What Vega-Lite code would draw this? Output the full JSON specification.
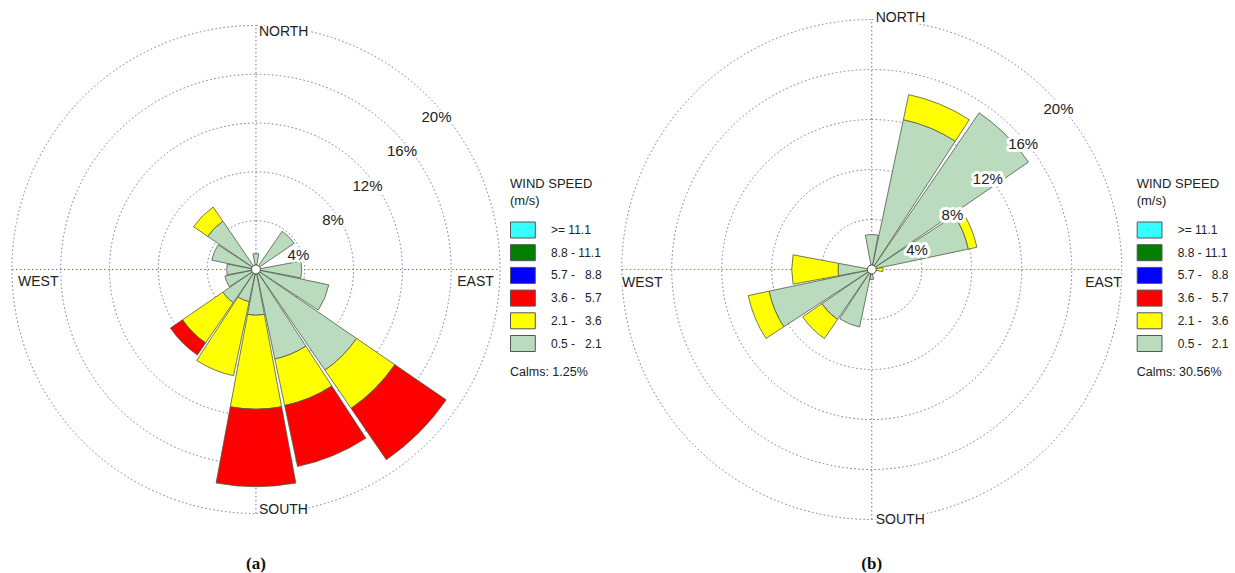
{
  "$schema": "https://vega.github.io/schema/vega-lite/v6.json",
  "background": "white",
  "width": 1235, "height": 573,
  "autosize": {"type": "none"},
  "padding": 0,
  "config": {"view": {"stroke": null}, "text": {"font": "Liberation Sans", "color": "#222"}},
  "datasets": {
    "rings": [
      {"ring": 4, "label": "4%"}, {"ring": 8, "label": "8%"}, {"ring": 12, "label": "12%"},
      {"ring": 16, "label": "16%"}, {"ring": 20, "label": "20%"}
    ],
    "a": [
      {"dir": "N", "speed": "0.5 - 2.1", "pct": 1.3},
      {"dir": "NE", "speed": "0.5 - 2.1", "pct": 3.8},
      {"dir": "E", "speed": "0.5 - 2.1", "pct": 3.75},
      {"dir": "ESE", "speed": "0.5 - 2.1", "pct": 6.1},
      {"dir": "SE", "speed": "0.5 - 2.1", "pct": 10.0},
      {"dir": "SE", "speed": "2.1 - 3.6", "pct": 3.8},
      {"dir": "SE", "speed": "3.6 - 5.7", "pct": 5.1},
      {"dir": "SSE", "speed": "0.5 - 2.1", "pct": 7.5},
      {"dir": "SSE", "speed": "2.1 - 3.6", "pct": 3.9},
      {"dir": "SSE", "speed": "3.6 - 5.7", "pct": 5.1},
      {"dir": "S", "speed": "0.5 - 2.1", "pct": 3.75},
      {"dir": "S", "speed": "2.1 - 3.6", "pct": 7.7},
      {"dir": "S", "speed": "3.6 - 5.7", "pct": 6.35},
      {"dir": "SSW", "speed": "0.5 - 2.1", "pct": 2.7},
      {"dir": "SSW", "speed": "2.1 - 3.6", "pct": 6.2},
      {"dir": "SW", "speed": "0.5 - 2.1", "pct": 3.3},
      {"dir": "SW", "speed": "2.1 - 3.6", "pct": 4.0},
      {"dir": "SW", "speed": "3.6 - 5.7", "pct": 1.2},
      {"dir": "WSW", "speed": "0.5 - 2.1", "pct": 2.6},
      {"dir": "W", "speed": "0.5 - 2.1", "pct": 2.4},
      {"dir": "WNW", "speed": "0.5 - 2.1", "pct": 3.7},
      {"dir": "NW", "speed": "0.5 - 2.1", "pct": 4.8},
      {"dir": "NW", "speed": "2.1 - 3.6", "pct": 1.4}
    ],
    "b": [
      {"dir": "N", "speed": "0.5 - 2.1", "pct": 2.8},
      {"dir": "NNE", "speed": "0.5 - 2.1", "pct": 12.25},
      {"dir": "NNE", "speed": "2.1 - 3.6", "pct": 2.05},
      {"dir": "NE", "speed": "0.5 - 2.1", "pct": 15.2},
      {"dir": "ENE", "speed": "0.5 - 2.1", "pct": 7.9},
      {"dir": "ENE", "speed": "2.1 - 3.6", "pct": 0.7},
      {"dir": "E", "speed": "0.5 - 2.1", "pct": 0.3},
      {"dir": "E", "speed": "2.1 - 3.6", "pct": 0.6},
      {"dir": "S", "speed": "0.5 - 2.1", "pct": 0.8},
      {"dir": "SSW", "speed": "0.5 - 2.1", "pct": 4.7},
      {"dir": "SW", "speed": "0.5 - 2.1", "pct": 4.85},
      {"dir": "SW", "speed": "2.1 - 3.6", "pct": 1.85},
      {"dir": "WSW", "speed": "0.5 - 2.1", "pct": 8.4},
      {"dir": "WSW", "speed": "2.1 - 3.6", "pct": 1.7},
      {"dir": "W", "speed": "0.5 - 2.1", "pct": 2.7},
      {"dir": "W", "speed": "2.1 - 3.6", "pct": 3.7}
    ]
  },
  "layer": [
    {
      "layer": [
        {"data": {"name": "rings"}, "mark": {"type": "arc", "filled": false, "stroke": "#7070b4", "strokeWidth": 1, "strokeDash": [1.5, 2.5]},
         "encoding": {"x": {"datum": 0, "scale": {"domain": [-20.98, 80.25], "nice": false, "zero": false}, "axis": null}, "y": {"datum": 0, "scale": {"domain": [-24.88, 22.09], "nice": false, "zero": false}, "axis": null},
           "radius": {"field": "ring", "type": "quantitative", "stack": null, "scale": {"type": "linear", "domain": [0, 23.48], "nice": false, "zero": true}}, "theta": {"value": 0}, "theta2": {"value": 6.2832}}},
        {"data": {"values": [{}]}, "mark": {"type": "rule", "stroke": "#7070b4", "strokeWidth": 1, "strokeDash": [1.5, 2.5]},
         "encoding": {"x": {"datum": -20, "scale": {"domain": [-20.98, 80.25], "nice": false, "zero": false}, "axis": null}, "x2": {"datum": 20}, "y": {"datum": 0, "scale": {"domain": [-24.88, 22.09], "nice": false, "zero": false}, "axis": null}}},
        {"data": {"values": [{}]}, "mark": {"type": "rule", "stroke": "#7070b4", "strokeWidth": 1, "strokeDash": [1.5, 2.5]},
         "encoding": {"x": {"datum": 0, "scale": {"domain": [-20.98, 80.25], "nice": false, "zero": false}, "axis": null}, "y": {"datum": -20, "scale": {"domain": [-24.88, 22.09], "nice": false, "zero": false}, "axis": null}, "y2": {"datum": 20}}},
        {"data": {"name": "a"}, "mark": {"type": "arc", "stroke": "#4f5946", "strokeWidth": 0.8},
         "encoding": {
           "x": {"datum": 0, "scale": {"domain": [-20.98, 80.25], "nice": false, "zero": false}, "axis": null}, "y": {"datum": 0, "scale": {"domain": [-24.88, 22.09], "nice": false, "zero": false}, "axis": null},
           "theta": {"field": "dir", "type": "nominal", "scale": {"type": "band", "domain": ["N","NNE","NE","ENE","E","ESE","SE","SSE","S","SSW","SW","WSW","W","WNW","NW","NNW"], "range": [-0.19635, 6.08684], "paddingInner": 0.06, "paddingOuter": 0.03}},
           "radius": {"field": "pct", "type": "quantitative", "stack": "zero", "scale": {"type": "linear", "domain": [0, 23.48], "nice": false, "zero": true}},
           "color": {"field": "speed", "type": "nominal",
             "scale": {"domain": [">= 11.1", "8.8 - 11.1", "5.7 - 8.8", "3.6 - 5.7", "2.1 - 3.6", "0.5 - 2.1"], "range": ["#33ffff", "#007f00", "#0000ff", "#ff0000", "#ffff00", "#badbbe"]},
             "legend": {"orient": "none", "legendX": 510, "legendY": 177.5, "title": ["WIND SPEED", "(m/s)"], "titleFont": "Liberation Sans", "titleFontSize": 13, "titleFontWeight": "normal", "titleColor": "#222", "titleLineHeight": 17, "titlePadding": 14, "titleAnchor": "start", "labelFont": "Liberation Sans", "labelFontSize": 12, "labelColor": "#222", "labelOffset": 24, "labelLimit": 200, "rowPadding": 1.7, "symbolType": "M-1,-1H2.1V1H-1Z", "symbolSize": 256, "symbolStrokeColor": "#555", "symbolStrokeWidth": 1, "symbolOpacity": 1, "padding": 0,
               "labelExpr": "datum.label == '>= 11.1' ? datum.label : '\u00a0' + replace(datum.label, ' - ', length(datum.label) < 10 ? ' -\u00a0\u00a0\u00a0' : ' - ')"}},
           "order": {"field": "speed", "sort": "ascending"}
         }},
        {"data": {"values": [{}]}, "mark": {"type": "arc", "fill": "white", "stroke": "#444", "strokeWidth": 1},
         "encoding": {"x": {"datum": 0, "scale": {"domain": [-20.98, 80.25], "nice": false, "zero": false}, "axis": null}, "y": {"datum": 0, "scale": {"domain": [-24.88, 22.09], "nice": false, "zero": false}, "axis": null},
           "radius": {"value": 4.5}, "theta": {"value": 0}, "theta2": {"value": 6.2832}}},
        {"data": {"name": "rings"},
         "encoding": {"x": {"datum": 0, "scale": {"domain": [-20.98, 80.25], "nice": false, "zero": false}, "axis": null}, "y": {"datum": 0, "scale": {"domain": [-24.88, 22.09], "nice": false, "zero": false}, "axis": null},
           "radius": {"field": "ring", "type": "quantitative", "stack": null, "scale": {"type": "linear", "domain": [0, 23.48], "nice": false, "zero": true}}, "theta": {"value": 0.7854}, "text": {"field": "label"}},
         "layer": [
           {"mark": {"type": "text", "fontSize": 15, "dx": 8, "dy": 20, "align": "center", "baseline": "middle", "fill": "white", "stroke": "white", "strokeWidth": 5, "strokeJoin": "round"}},
           {"mark": {"type": "text", "fontSize": 15, "dx": 8, "dy": 20, "align": "center", "baseline": "middle", "color": "#222"}}
         ]},
        {"data": {"values": [{"t": "NORTH"}]},
         "encoding": {"x": {"datum": 0, "scale": {"domain": [-20.98, 80.25], "nice": false, "zero": false}, "axis": null}, "y": {"datum": 19.47, "scale": {"domain": [-24.88, 22.09], "nice": false, "zero": false}, "axis": null}, "text": {"field": "t"}},
         "layer": [
           {"mark": {"type": "text", "fontSize": 14, "align": "left", "baseline": "middle", "dx": 3, "fill": "white", "stroke": "white", "strokeWidth": 4, "strokeJoin": "round"}},
           {"mark": {"type": "text", "fontSize": 14, "align": "left", "baseline": "middle", "dx": 3, "color": "#222"}}
         ]},
        {"data": {"values": [{"t": "SOUTH"}]},
         "encoding": {"x": {"datum": 0, "scale": {"domain": [-20.98, 80.25], "nice": false, "zero": false}, "axis": null}, "y": {"datum": -19.7, "scale": {"domain": [-24.88, 22.09], "nice": false, "zero": false}, "axis": null}, "text": {"field": "t"}},
         "layer": [
           {"mark": {"type": "text", "fontSize": 14, "align": "left", "baseline": "middle", "dx": 3, "fill": "white", "stroke": "white", "strokeWidth": 4, "strokeJoin": "round"}},
           {"mark": {"type": "text", "fontSize": 14, "align": "left", "baseline": "middle", "dx": 3, "color": "#222"}}
         ]},
        {"data": {"values": [{"t": "WEST"}]},
         "encoding": {"x": {"datum": -19.5, "scale": {"domain": [-20.98, 80.25], "nice": false, "zero": false}, "axis": null}, "y": {"datum": 0, "scale": {"domain": [-24.88, 22.09], "nice": false, "zero": false}, "axis": null}, "text": {"field": "t"}},
         "layer": [
           {"mark": {"type": "text", "fontSize": 14, "align": "left", "baseline": "middle", "dy": 13, "fill": "white", "stroke": "white", "strokeWidth": 4, "strokeJoin": "round"}},
           {"mark": {"type": "text", "fontSize": 14, "align": "left", "baseline": "middle", "dy": 13, "color": "#222"}}
         ]},
        {"data": {"values": [{"t": "EAST"}]},
         "encoding": {"x": {"datum": 19.5, "scale": {"domain": [-20.98, 80.25], "nice": false, "zero": false}, "axis": null}, "y": {"datum": 0, "scale": {"domain": [-24.88, 22.09], "nice": false, "zero": false}, "axis": null}, "text": {"field": "t"}},
         "layer": [
           {"mark": {"type": "text", "fontSize": 14, "align": "right", "baseline": "middle", "dy": 13, "fill": "white", "stroke": "white", "strokeWidth": 4, "strokeJoin": "round"}},
           {"mark": {"type": "text", "fontSize": 14, "align": "right", "baseline": "middle", "dy": 13, "color": "#222"}}
         ]},
        {"data": {"values": [{"t": "Calms: 1.25%"}]}, "mark": {"type": "text", "fontSize": 12.5, "align": "left", "baseline": "middle", "color": "#222"},
         "encoding": {"x": {"datum": 20.82, "scale": {"domain": [-20.98, 80.25], "nice": false, "zero": false}, "axis": null}, "y": {"datum": -8.4, "scale": {"domain": [-24.88, 22.09], "nice": false, "zero": false}, "axis": null}, "text": {"field": "t"}}},
        {"data": {"values": [{"t": "(a)"}]}, "mark": {"type": "text", "font": "Liberation Serif", "fontSize": 17, "fontWeight": "bold", "align": "center", "baseline": "middle", "color": "#111"},
         "encoding": {"x": {"datum": 0, "scale": {"domain": [-20.98, 80.25], "nice": false, "zero": false}, "axis": null}, "y": {"datum": -24.14, "scale": {"domain": [-24.88, 22.09], "nice": false, "zero": false}, "axis": null}, "text": {"field": "t"}}}
      ]
    },
    {
      "layer": [
        {"data": {"name": "rings"}, "mark": {"type": "arc", "filled": false, "stroke": "#7070b4", "strokeWidth": 1, "strokeDash": [1.5, 2.5]},
         "encoding": {"x": {"datum": 0, "scale": {"domain": [-69.74, 29.06], "nice": false, "zero": false}, "axis": null}, "y": {"datum": 0, "scale": {"domain": [-24.28, 21.56], "nice": false, "zero": false}, "axis": null},
           "radius": {"field": "ring", "type": "quantitative", "stack": null, "scale": {"type": "linear", "domain": [0, 22.92], "nice": false, "zero": true}}, "theta": {"value": 0}, "theta2": {"value": 6.2832}}},
        {"data": {"values": [{}]}, "mark": {"type": "rule", "stroke": "#7070b4", "strokeWidth": 1, "strokeDash": [1.5, 2.5]},
         "encoding": {"x": {"datum": -20, "scale": {"domain": [-69.74, 29.06], "nice": false, "zero": false}, "axis": null}, "x2": {"datum": 20}, "y": {"datum": 0, "scale": {"domain": [-24.28, 21.56], "nice": false, "zero": false}, "axis": null}}},
        {"data": {"values": [{}]}, "mark": {"type": "rule", "stroke": "#7070b4", "strokeWidth": 1, "strokeDash": [1.5, 2.5]},
         "encoding": {"x": {"datum": 0, "scale": {"domain": [-69.74, 29.06], "nice": false, "zero": false}, "axis": null}, "y": {"datum": -20, "scale": {"domain": [-24.28, 21.56], "nice": false, "zero": false}, "axis": null}, "y2": {"datum": 20}}},
        {"data": {"name": "b"}, "mark": {"type": "arc", "stroke": "#4f5946", "strokeWidth": 0.8},
         "encoding": {
           "x": {"datum": 0, "scale": {"domain": [-69.74, 29.06], "nice": false, "zero": false}, "axis": null}, "y": {"datum": 0, "scale": {"domain": [-24.28, 21.56], "nice": false, "zero": false}, "axis": null},
           "theta": {"field": "dir", "type": "nominal", "scale": {"type": "band", "domain": ["N","NNE","NE","ENE","E","ESE","SE","SSE","S","SSW","SW","WSW","W","WNW","NW","NNW"], "range": [-0.19635, 6.08684], "paddingInner": 0.06, "paddingOuter": 0.03}},
           "radius": {"field": "pct", "type": "quantitative", "stack": "zero", "scale": {"type": "linear", "domain": [0, 22.92], "nice": false, "zero": true}},
           "color": {"field": "speed", "type": "nominal",
             "scale": {"domain": [">= 11.1", "8.8 - 11.1", "5.7 - 8.8", "3.6 - 5.7", "2.1 - 3.6", "0.5 - 2.1"], "range": ["#33ffff", "#007f00", "#0000ff", "#ff0000", "#ffff00", "#badbbe"]},
             "legend": {"orient": "none", "legendX": 1136.7, "legendY": 177.5, "title": ["WIND SPEED", "(m/s)"], "titleFont": "Liberation Sans", "titleFontSize": 13, "titleFontWeight": "normal", "titleColor": "#222", "titleLineHeight": 17, "titlePadding": 14, "titleAnchor": "start", "labelFont": "Liberation Sans", "labelFontSize": 12, "labelColor": "#222", "labelOffset": 24, "labelLimit": 200, "rowPadding": 1.7, "symbolType": "M-1,-1H2.1V1H-1Z", "symbolSize": 256, "symbolStrokeColor": "#555", "symbolStrokeWidth": 1, "symbolOpacity": 1, "padding": 0,
               "labelExpr": "datum.label == '>= 11.1' ? datum.label : '\u00a0' + replace(datum.label, ' - ', length(datum.label) < 10 ? ' -\u00a0\u00a0\u00a0' : ' - ')"}},
           "order": {"field": "speed", "sort": "ascending"}
         }},
        {"data": {"values": [{}]}, "mark": {"type": "arc", "fill": "white", "stroke": "#444", "strokeWidth": 1},
         "encoding": {"x": {"datum": 0, "scale": {"domain": [-69.74, 29.06], "nice": false, "zero": false}, "axis": null}, "y": {"datum": 0, "scale": {"domain": [-24.28, 21.56], "nice": false, "zero": false}, "axis": null},
           "radius": {"value": 4.5}, "theta": {"value": 0}, "theta2": {"value": 6.2832}}},
        {"data": {"name": "rings"},
         "encoding": {"x": {"datum": 0, "scale": {"domain": [-69.74, 29.06], "nice": false, "zero": false}, "axis": null}, "y": {"datum": 0, "scale": {"domain": [-24.28, 21.56], "nice": false, "zero": false}, "axis": null},
           "radius": {"field": "ring", "type": "quantitative", "stack": null, "scale": {"type": "linear", "domain": [0, 22.92], "nice": false, "zero": true}}, "theta": {"value": 0.7854}, "text": {"field": "label"}},
         "layer": [
           {"mark": {"type": "text", "fontSize": 15, "dx": 10, "dy": 16, "align": "center", "baseline": "middle", "fill": "white", "stroke": "white", "strokeWidth": 6, "strokeJoin": "round"}},
           {"mark": {"type": "text", "fontSize": 15, "dx": 10, "dy": 16, "align": "center", "baseline": "middle", "color": "#222"}}
         ]},
        {"data": {"values": [{"t": "NORTH"}]},
         "encoding": {"x": {"datum": 0, "scale": {"domain": [-69.74, 29.06], "nice": false, "zero": false}, "axis": null}, "y": {"datum": 20.1, "scale": {"domain": [-24.28, 21.56], "nice": false, "zero": false}, "axis": null}, "text": {"field": "t"}},
         "layer": [
           {"mark": {"type": "text", "fontSize": 14, "align": "left", "baseline": "middle", "dx": 4, "fill": "white", "stroke": "white", "strokeWidth": 4, "strokeJoin": "round"}},
           {"mark": {"type": "text", "fontSize": 14, "align": "left", "baseline": "middle", "dx": 4, "color": "#222"}}
         ]},
        {"data": {"values": [{"t": "SOUTH"}]},
         "encoding": {"x": {"datum": 0, "scale": {"domain": [-69.74, 29.06], "nice": false, "zero": false}, "axis": null}, "y": {"datum": -20.0, "scale": {"domain": [-24.28, 21.56], "nice": false, "zero": false}, "axis": null}, "text": {"field": "t"}},
         "layer": [
           {"mark": {"type": "text", "fontSize": 14, "align": "left", "baseline": "middle", "dx": 4, "fill": "white", "stroke": "white", "strokeWidth": 4, "strokeJoin": "round"}},
           {"mark": {"type": "text", "fontSize": 14, "align": "left", "baseline": "middle", "dx": 4, "color": "#222"}}
         ]},
        {"data": {"values": [{"t": "WEST"}]},
         "encoding": {"x": {"datum": -19.98, "scale": {"domain": [-69.74, 29.06], "nice": false, "zero": false}, "axis": null}, "y": {"datum": 0, "scale": {"domain": [-24.28, 21.56], "nice": false, "zero": false}, "axis": null}, "text": {"field": "t"}},
         "layer": [
           {"mark": {"type": "text", "fontSize": 14, "align": "left", "baseline": "middle", "dy": 13, "fill": "white", "stroke": "white", "strokeWidth": 4, "strokeJoin": "round"}},
           {"mark": {"type": "text", "fontSize": 14, "align": "left", "baseline": "middle", "dy": 13, "color": "#222"}}
         ]},
        {"data": {"values": [{"t": "EAST"}]},
         "encoding": {"x": {"datum": 20.0, "scale": {"domain": [-69.74, 29.06], "nice": false, "zero": false}, "axis": null}, "y": {"datum": 0, "scale": {"domain": [-24.28, 21.56], "nice": false, "zero": false}, "axis": null}, "text": {"field": "t"}},
         "layer": [
           {"mark": {"type": "text", "fontSize": 14, "align": "right", "baseline": "middle", "dy": 13, "fill": "white", "stroke": "white", "strokeWidth": 4, "strokeJoin": "round"}},
           {"mark": {"type": "text", "fontSize": 14, "align": "right", "baseline": "middle", "dy": 13, "color": "#222"}}
         ]},
        {"data": {"values": [{"t": "Calms: 30.56%"}]}, "mark": {"type": "text", "fontSize": 12.5, "align": "left", "baseline": "middle", "color": "#222"},
         "encoding": {"x": {"datum": 21.2, "scale": {"domain": [-69.74, 29.06], "nice": false, "zero": false}, "axis": null}, "y": {"datum": -8.2, "scale": {"domain": [-24.28, 21.56], "nice": false, "zero": false}, "axis": null}, "text": {"field": "t"}}},
        {"data": {"values": [{"t": "(b)"}]}, "mark": {"type": "text", "font": "Liberation Serif", "fontSize": 17, "fontWeight": "bold", "align": "center", "baseline": "middle", "color": "#111"},
         "encoding": {"x": {"datum": 0, "scale": {"domain": [-69.74, 29.06], "nice": false, "zero": false}, "axis": null}, "y": {"datum": -23.56, "scale": {"domain": [-24.28, 21.56], "nice": false, "zero": false}, "axis": null}, "text": {"field": "t"}}}
      ]
    }
  ],
  "resolve": {"scale": {"x": "independent", "y": "independent", "color": "independent", "theta": "independent", "radius": "independent"}, "legend": {"color": "independent"}}
}
